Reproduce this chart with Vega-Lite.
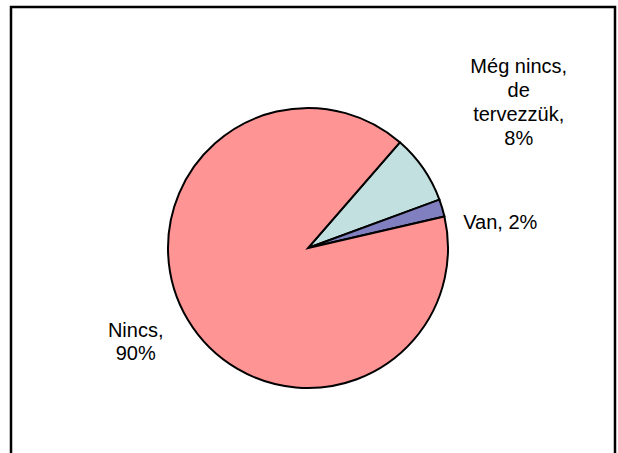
{
  "$schema": "https://vega.github.io/schema/vega-lite/v6.json",
  "width": 604,
  "height": 446,
  "autosize": {"type": "none"},
  "padding": {"left": 11, "top": 7, "right": 3, "bottom": 0},
  "background": "white",
  "config": {
    "view": {"stroke": null},
    "text": {"font": "Liberation Sans"}
  },
  "data": {
    "values": [
      {"idx": 1, "cat": "Még nincs, de tervezzük", "value": 8, "label": "Még nincs,\nde\ntervezzük,\n8%"},
      {"idx": 2, "cat": "Van", "value": 2, "label": "Van, 2%"},
      {"idx": 3, "cat": "Nincs", "value": 90, "label": "Nincs,\n90%"}
    ]
  },
  "layer": [
    {
      "data": {"values": [{"frame": "chart area"}]},
      "mark": {"type": "rect", "fill": null, "stroke": "black", "strokeWidth": 2.5, "y2": {"expr": "height+10"}},
      "encoding": {}
    },
    {
      "mark": {"type": "arc", "radius": 140, "stroke": "black", "strokeWidth": 2, "x": {"expr": "width/2-5"}, "y": {"expr": "height/2+18"}},
      "encoding": {
        "theta": {"field": "value", "type": "quantitative", "stack": true, "scale": {"range": [0.7156, 6.9988]}},
        "order": {"field": "idx", "type": "quantitative"},
        "color": {
          "field": "cat", "type": "nominal",
          "scale": {"domain": ["Még nincs, de tervezzük", "Van", "Nincs"], "range": ["#c2e0e0", "#8080c0", "#ff9494"]},
          "legend": null
        }
      }
    },
    {
      "mark": {"type": "text", "radius": 256, "dy": -36, "fontSize": 20, "lineHeight": 24, "lineBreak": "\n", "align": "center", "baseline": "middle", "color": "black", "x": {"expr": "width/2-5"}, "y": {"expr": "height/2+18"}},
      "encoding": {
        "theta": {"field": "value", "type": "quantitative", "stack": true},
        "order": {"field": "idx", "type": "quantitative"},
        "text": {"condition": {"test": "datum.idx == 1", "field": "label"}, "value": ""}
      }
    },
    {
      "mark": {"type": "text", "radius": 162, "dy": 21, "fontSize": 20, "lineHeight": 24, "lineBreak": "\n", "align": "left", "baseline": "middle", "color": "black", "x": {"expr": "width/2-5"}, "y": {"expr": "height/2+18"}},
      "encoding": {
        "theta": {"field": "value", "type": "quantitative", "stack": true},
        "order": {"field": "idx", "type": "quantitative"},
        "text": {"condition": {"test": "datum.idx == 2", "field": "label"}, "value": ""}
      }
    },
    {
      "mark": {"type": "text", "radius": 201, "dy": -21, "fontSize": 20, "lineHeight": 23, "lineBreak": "\n", "align": "center", "baseline": "middle", "color": "black", "x": {"expr": "width/2-5"}, "y": {"expr": "height/2+18"}},
      "encoding": {
        "theta": {"field": "value", "type": "quantitative", "stack": true},
        "order": {"field": "idx", "type": "quantitative"},
        "text": {"condition": {"test": "datum.idx == 3", "field": "label"}, "value": ""}
      }
    }
  ]
}
